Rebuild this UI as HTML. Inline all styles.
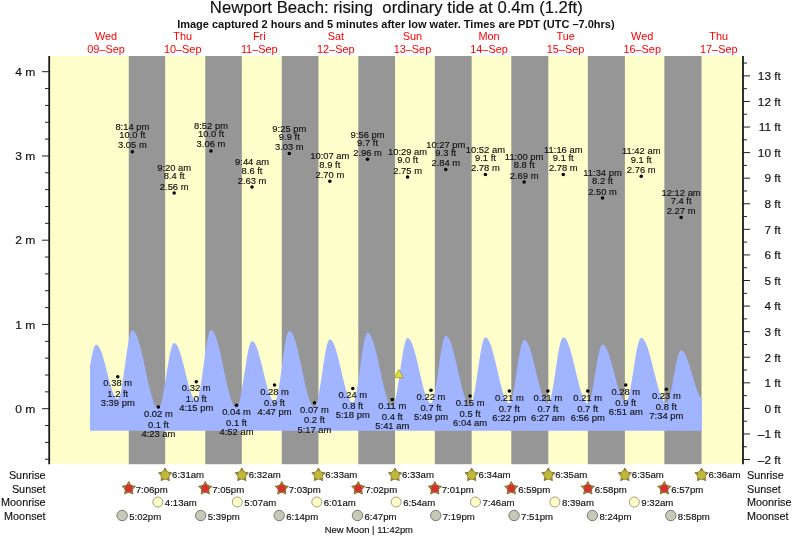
<!DOCTYPE html>
<html><head><meta charset="utf-8"><style>
html,body{margin:0;padding:0;background:#fff;}
svg{display:block;will-change:transform;}
text{font-family:"Liberation Sans",sans-serif;fill:#111;stroke:#111;stroke-width:0.15px;}
.tl{font-size:9.6px;text-anchor:middle;}
.ax{font-size:11px;}
.dl{font-size:10.9px;text-anchor:middle;fill:#ff0000;stroke:none;}
.title{font-size:16.7px;text-anchor:middle;fill:#111;}
.sub{font-size:11px;stroke:none;font-weight:bold;text-anchor:middle;fill:#111;}
.rl{font-size:11.4px;}
.it{font-size:9.6px;}
.nm{font-size:9.4px;}
</style></head><body>
<svg width="793" height="538" viewBox="0 0 793 538">
<rect width="793" height="538" fill="#fff"/>
<rect x="49.0" y="56.0" width="694.0" height="408.2" fill="#ffffcc"/>
<rect x="128.75" y="56.0" width="36.43" height="408.2" fill="#969696"/>
<rect x="205.28" y="56.0" width="36.54" height="408.2" fill="#969696"/>
<rect x="281.76" y="56.0" width="36.70" height="408.2" fill="#969696"/>
<rect x="358.29" y="56.0" width="36.75" height="408.2" fill="#969696"/>
<rect x="434.82" y="56.0" width="36.86" height="408.2" fill="#969696"/>
<rect x="511.30" y="56.0" width="37.02" height="408.2" fill="#969696"/>
<rect x="587.83" y="56.0" width="37.07" height="408.2" fill="#969696"/>
<rect x="664.36" y="56.0" width="37.18" height="408.2" fill="#969696"/>
<path d="M90.00,430.70 L90.00,365.84 L90.50,362.95 L91.00,360.20 L91.50,357.61 L92.00,355.20 L92.50,352.99 L93.00,351.02 L93.50,349.28 L94.00,347.81 L94.50,346.62 L95.00,345.71 L95.50,345.10 L96.00,344.80 L96.50,344.78 L97.00,344.92 L97.50,345.21 L98.00,345.64 L98.50,346.21 L99.00,346.91 L99.50,347.75 L100.00,348.72 L100.50,349.82 L101.00,351.03 L101.50,352.35 L102.00,353.77 L102.50,355.30 L103.00,356.91 L103.50,358.60 L104.00,360.36 L104.50,362.18 L105.00,364.05 L105.50,365.97 L106.00,367.92 L106.50,369.89 L107.00,371.87 L107.50,373.84 L108.00,375.81 L108.50,377.76 L109.00,379.67 L109.50,381.55 L110.00,383.37 L110.50,385.13 L111.00,386.82 L111.50,388.43 L112.00,389.95 L112.50,391.37 L113.00,392.69 L113.50,393.90 L114.00,394.99 L114.50,395.96 L115.00,396.80 L115.50,397.50 L116.00,398.07 L116.50,398.50 L117.00,398.78 L117.50,398.93 L118.00,398.89 L118.50,398.49 L119.00,397.69 L119.50,396.52 L120.00,394.98 L120.50,393.09 L121.00,390.87 L121.50,388.35 L122.00,385.56 L122.50,382.52 L123.00,379.29 L123.50,375.88 L124.00,372.34 L124.50,368.71 L125.00,365.04 L125.50,361.36 L126.00,357.73 L126.50,354.17 L127.00,350.73 L127.50,347.45 L128.00,344.37 L128.50,341.53 L129.00,338.95 L129.50,336.67 L130.00,334.71 L130.50,333.09 L131.00,331.84 L131.50,330.97 L132.00,330.48 L132.50,330.38 L133.00,330.49 L133.50,330.74 L134.00,331.13 L134.50,331.67 L135.00,332.33 L135.50,333.14 L136.00,334.07 L136.50,335.13 L137.00,336.32 L137.50,337.63 L138.00,339.05 L138.50,340.58 L139.00,342.22 L139.50,343.96 L140.00,345.79 L140.50,347.70 L141.00,349.69 L141.50,351.76 L142.00,353.89 L142.50,356.07 L143.00,358.31 L143.50,360.58 L144.00,362.88 L144.50,365.21 L145.00,367.55 L145.50,369.90 L146.00,372.25 L146.50,374.59 L147.00,376.90 L147.50,379.19 L148.00,381.44 L148.50,383.65 L149.00,385.81 L149.50,387.91 L150.00,389.93 L150.50,391.89 L151.00,393.76 L151.50,395.54 L152.00,397.22 L152.50,398.80 L153.00,400.28 L153.50,401.64 L154.00,402.89 L154.50,404.01 L155.00,405.00 L155.50,405.87 L156.00,406.60 L156.50,407.20 L157.00,407.65 L157.50,407.97 L158.00,408.15 L158.50,408.18 L159.00,407.93 L159.50,407.37 L160.00,406.49 L160.50,405.31 L161.00,403.83 L161.50,402.07 L162.00,400.05 L162.50,397.79 L163.00,395.31 L163.50,392.64 L164.00,389.80 L164.50,386.81 L165.00,383.72 L165.50,380.54 L166.00,377.32 L166.50,374.08 L167.00,370.85 L167.50,367.67 L168.00,364.57 L168.50,361.57 L169.00,358.72 L169.50,356.03 L170.00,353.53 L170.50,351.26 L171.00,349.22 L171.50,347.44 L172.00,345.94 L172.50,344.74 L173.00,343.83 L173.50,343.25 L174.00,342.98 L174.50,342.99 L175.00,343.16 L175.50,343.48 L176.00,343.93 L176.50,344.53 L177.00,345.27 L177.50,346.14 L178.00,347.14 L178.50,348.26 L179.00,349.50 L179.50,350.86 L180.00,352.32 L180.50,353.88 L181.00,355.53 L181.50,357.26 L182.00,359.06 L182.50,360.93 L183.00,362.85 L183.50,364.82 L184.00,366.82 L184.50,368.85 L185.00,370.89 L185.50,372.94 L186.00,374.98 L186.50,377.00 L187.00,379.00 L187.50,380.96 L188.00,382.87 L188.50,384.73 L189.00,386.52 L189.50,388.24 L190.00,389.87 L190.50,391.41 L191.00,392.85 L191.50,394.19 L192.00,395.41 L192.50,396.51 L193.00,397.48 L193.50,398.33 L194.00,399.04 L194.50,399.61 L195.00,400.04 L195.50,400.32 L196.00,400.47 L196.50,400.43 L197.00,400.02 L197.50,399.22 L198.00,398.03 L198.50,396.47 L199.00,394.55 L199.50,392.31 L200.00,389.75 L200.50,386.92 L201.00,383.85 L201.50,380.56 L202.00,377.10 L202.50,373.51 L203.00,369.82 L203.50,366.08 L204.00,362.33 L204.50,358.62 L205.00,354.98 L205.50,351.46 L206.00,348.10 L206.50,344.93 L207.00,341.99 L207.50,339.32 L208.00,336.94 L208.50,334.89 L209.00,333.18 L209.50,331.83 L210.00,330.87 L210.50,330.30 L211.00,330.12 L211.50,330.20 L212.00,330.43 L212.50,330.81 L213.00,331.33 L213.50,331.99 L214.00,332.79 L214.50,333.72 L215.00,334.79 L215.50,335.99 L216.00,337.32 L216.50,338.76 L217.00,340.32 L217.50,341.98 L218.00,343.75 L218.50,345.61 L219.00,347.56 L219.50,349.60 L220.00,351.70 L220.50,353.87 L221.00,356.10 L221.50,358.37 L222.00,360.69 L222.50,363.03 L223.00,365.40 L223.50,367.78 L224.00,370.17 L224.50,372.55 L225.00,374.92 L225.50,377.26 L226.00,379.57 L226.50,381.84 L227.00,384.07 L227.50,386.23 L228.00,388.33 L228.50,390.36 L229.00,392.31 L229.50,394.16 L230.00,395.92 L230.50,397.58 L231.00,399.13 L231.50,400.57 L232.00,401.88 L232.50,403.07 L233.00,404.14 L233.50,405.06 L234.00,405.86 L234.50,406.51 L235.00,407.02 L235.50,407.38 L236.00,407.60 L236.50,407.67 L237.00,407.50 L237.50,406.99 L238.00,406.15 L238.50,404.98 L239.00,403.50 L239.50,401.72 L240.00,399.67 L240.50,397.35 L241.00,394.81 L241.50,392.05 L242.00,389.11 L242.50,386.02 L243.00,382.82 L243.50,379.53 L244.00,376.18 L244.50,372.82 L245.00,369.47 L245.50,366.18 L246.00,362.97 L246.50,359.87 L247.00,356.93 L247.50,354.16 L248.00,351.60 L248.50,349.28 L249.00,347.21 L249.50,345.41 L250.00,343.92 L250.50,342.74 L251.00,341.88 L251.50,341.35 L252.00,341.16 L252.50,341.23 L253.00,341.44 L253.50,341.80 L254.00,342.30 L254.50,342.94 L255.00,343.73 L255.50,344.64 L256.00,345.69 L256.50,346.86 L257.00,348.15 L257.50,349.56 L258.00,351.06 L258.50,352.67 L259.00,354.37 L259.50,356.16 L260.00,358.01 L260.50,359.93 L261.00,361.91 L261.50,363.93 L262.00,365.99 L262.50,368.08 L263.00,370.18 L263.50,372.28 L264.00,374.38 L264.50,376.47 L265.00,378.53 L265.50,380.56 L266.00,382.54 L266.50,384.47 L267.00,386.33 L267.50,388.12 L268.00,389.83 L268.50,391.45 L269.00,392.97 L269.50,394.38 L270.00,395.69 L270.50,396.87 L271.00,397.93 L271.50,398.86 L272.00,399.66 L272.50,400.31 L273.00,400.83 L273.50,401.20 L274.00,401.43 L274.50,401.51 L275.00,401.33 L275.50,400.75 L276.00,399.79 L276.50,398.44 L277.00,396.73 L277.50,394.68 L278.00,392.31 L278.50,389.64 L279.00,386.71 L279.50,383.54 L280.00,380.18 L280.50,376.67 L281.00,373.03 L281.50,369.32 L282.00,365.57 L282.50,361.83 L283.00,358.14 L283.50,354.54 L284.00,351.07 L284.50,347.77 L285.00,344.68 L285.50,341.84 L286.00,339.26 L286.50,336.99 L287.00,335.06 L287.50,333.47 L288.00,332.25 L288.50,331.41 L289.00,330.97 L289.50,330.90 L290.00,331.03 L290.50,331.31 L291.00,331.74 L291.50,332.31 L292.00,333.03 L292.50,333.88 L293.00,334.88 L293.50,336.00 L294.00,337.26 L294.50,338.63 L295.00,340.13 L295.50,341.74 L296.00,343.46 L296.50,345.27 L297.00,347.18 L297.50,349.17 L298.00,351.24 L298.50,353.38 L299.00,355.58 L299.50,357.83 L300.00,360.13 L300.50,362.46 L301.00,364.82 L301.50,367.19 L302.00,369.56 L302.50,371.94 L303.00,374.30 L303.50,376.64 L304.00,378.96 L304.50,381.23 L305.00,383.45 L305.50,385.62 L306.00,387.72 L306.50,389.75 L307.00,391.69 L307.50,393.55 L308.00,395.31 L308.50,396.97 L309.00,398.52 L309.50,399.95 L310.00,401.26 L310.50,402.44 L311.00,403.49 L311.50,404.41 L312.00,405.19 L312.50,405.82 L313.00,406.31 L313.50,406.66 L314.00,406.85 L314.50,406.90 L315.00,406.66 L315.50,406.08 L316.00,405.15 L316.50,403.89 L317.00,402.32 L317.50,400.44 L318.00,398.27 L318.50,395.85 L319.00,393.19 L319.50,390.33 L320.00,387.28 L320.50,384.09 L321.00,380.79 L321.50,377.41 L322.00,373.98 L322.50,370.54 L323.00,367.13 L323.50,363.78 L324.00,360.53 L324.50,357.41 L325.00,354.46 L325.50,351.69 L326.00,349.15 L326.50,346.86 L327.00,344.84 L327.50,343.11 L328.00,341.70 L328.50,340.61 L329.00,339.85 L329.50,339.44 L330.00,339.37 L330.50,339.50 L331.00,339.77 L331.50,340.19 L332.00,340.75 L332.50,341.45 L333.00,342.29 L333.50,343.27 L334.00,344.38 L334.50,345.61 L335.00,346.96 L335.50,348.42 L336.00,349.99 L336.50,351.65 L337.00,353.41 L337.50,355.25 L338.00,357.17 L338.50,359.14 L339.00,361.18 L339.50,363.26 L340.00,365.37 L340.50,367.52 L341.00,369.67 L341.50,371.84 L342.00,374.00 L342.50,376.14 L343.00,378.26 L343.50,380.35 L344.00,382.39 L344.50,384.38 L345.00,386.31 L345.50,388.16 L346.00,389.94 L346.50,391.62 L347.00,393.21 L347.50,394.69 L348.00,396.06 L348.50,397.31 L349.00,398.44 L349.50,399.44 L350.00,400.31 L350.50,401.04 L351.00,401.63 L351.50,402.07 L352.00,402.37 L352.50,402.52 L353.00,402.49 L353.50,402.10 L354.00,401.32 L354.50,400.17 L355.00,398.64 L355.50,396.77 L356.00,394.56 L356.50,392.06 L357.00,389.27 L357.50,386.25 L358.00,383.01 L358.50,379.60 L359.00,376.05 L359.50,372.41 L360.00,368.72 L360.50,365.01 L361.00,361.33 L361.50,357.72 L362.00,354.23 L362.50,350.88 L363.00,347.73 L363.50,344.79 L364.00,342.12 L364.50,339.73 L365.00,337.66 L365.50,335.92 L366.00,334.55 L366.50,333.54 L367.00,332.92 L367.50,332.69 L368.00,332.75 L368.50,332.96 L369.00,333.32 L369.50,333.82 L370.00,334.46 L370.50,335.24 L371.00,336.16 L371.50,337.22 L372.00,338.40 L372.50,339.71 L373.00,341.14 L373.50,342.68 L374.00,344.33 L374.50,346.08 L375.00,347.92 L375.50,349.85 L376.00,351.86 L376.50,353.94 L377.00,356.08 L377.50,358.27 L378.00,360.51 L378.50,362.78 L379.00,365.08 L379.50,367.39 L380.00,369.72 L380.50,372.04 L381.00,374.35 L381.50,376.64 L382.00,378.90 L382.50,381.12 L383.00,383.30 L383.50,385.41 L384.00,387.47 L384.50,389.44 L385.00,391.34 L385.50,393.15 L386.00,394.86 L386.50,396.47 L387.00,397.97 L387.50,399.36 L388.00,400.62 L388.50,401.76 L389.00,402.76 L389.50,403.63 L390.00,404.36 L390.50,404.95 L391.00,405.40 L391.50,405.70 L392.00,405.85 L392.50,405.84 L393.00,405.50 L393.50,404.80 L394.00,403.77 L394.50,402.40 L395.00,400.70 L395.50,398.71 L396.00,396.44 L396.50,393.91 L397.00,391.14 L397.50,388.18 L398.00,385.05 L398.50,381.78 L399.00,378.40 L399.50,374.96 L400.00,371.49 L400.50,368.02 L401.00,364.60 L401.50,361.25 L402.00,358.01 L402.50,354.93 L403.00,352.02 L403.50,349.32 L404.00,346.86 L404.50,344.66 L405.00,342.75 L405.50,341.14 L406.00,339.86 L406.50,338.92 L407.00,338.33 L407.50,338.09 L408.00,338.13 L408.50,338.32 L409.00,338.66 L409.50,339.15 L410.00,339.77 L410.50,340.53 L411.00,341.43 L411.50,342.46 L412.00,343.61 L412.50,344.89 L413.00,346.28 L413.50,347.79 L414.00,349.39 L414.50,351.09 L415.00,352.88 L415.50,354.75 L416.00,356.69 L416.50,358.69 L417.00,360.74 L417.50,362.84 L418.00,364.97 L418.50,367.13 L419.00,369.31 L419.50,371.49 L420.00,373.66 L420.50,375.83 L421.00,377.96 L421.50,380.07 L422.00,382.13 L422.50,384.14 L423.00,386.09 L423.50,387.97 L424.00,389.77 L424.50,391.48 L425.00,393.10 L425.50,394.62 L426.00,396.03 L426.50,397.33 L427.00,398.50 L427.50,399.55 L428.00,400.47 L428.50,401.25 L429.00,401.90 L429.50,402.40 L430.00,402.76 L430.50,402.98 L431.00,403.05 L431.50,402.85 L432.00,402.28 L432.50,401.33 L433.00,400.03 L433.50,398.37 L434.00,396.40 L434.50,394.12 L435.00,391.55 L435.50,388.74 L436.00,385.72 L436.50,382.50 L437.00,379.14 L437.50,375.67 L438.00,372.13 L438.50,368.56 L439.00,365.00 L439.50,361.49 L440.00,358.07 L440.50,354.77 L441.00,351.64 L441.50,348.72 L442.00,346.02 L442.50,343.59 L443.00,341.45 L443.50,339.62 L444.00,338.13 L444.50,337.00 L445.00,336.22 L445.50,335.83 L446.00,335.79 L446.50,335.92 L447.00,336.20 L447.50,336.63 L448.00,337.19 L448.50,337.89 L449.00,338.73 L449.50,339.70 L450.00,340.80 L450.50,342.02 L451.00,343.36 L451.50,344.81 L452.00,346.36 L452.50,348.02 L453.00,349.77 L453.50,351.61 L454.00,353.52 L454.50,355.51 L455.00,357.55 L455.50,359.65 L456.00,361.80 L456.50,363.98 L457.00,366.18 L457.50,368.41 L458.00,370.64 L458.50,372.87 L459.00,375.09 L459.50,377.29 L460.00,379.46 L460.50,381.59 L461.00,383.67 L461.50,385.70 L462.00,387.67 L462.50,389.56 L463.00,391.37 L463.50,393.10 L464.00,394.72 L464.50,396.25 L465.00,397.67 L465.50,398.97 L466.00,400.16 L466.50,401.22 L467.00,402.15 L467.50,402.95 L468.00,403.61 L468.50,404.13 L469.00,404.51 L469.50,404.75 L470.00,404.85 L470.50,404.72 L471.00,404.25 L471.50,403.42 L472.00,402.26 L472.50,400.77 L473.00,398.97 L473.50,396.87 L474.00,394.50 L474.50,391.89 L475.00,389.06 L475.50,386.04 L476.00,382.86 L476.50,379.56 L477.00,376.17 L477.50,372.72 L478.00,369.26 L478.50,365.82 L479.00,362.43 L479.50,359.13 L480.00,355.96 L480.50,352.95 L481.00,350.13 L481.50,347.53 L482.00,345.18 L482.50,343.09 L483.00,341.31 L483.50,339.83 L484.00,338.69 L484.50,337.88 L485.00,337.42 L485.50,337.31 L486.00,337.42 L486.50,337.66 L487.00,338.04 L487.50,338.56 L488.00,339.22 L488.50,340.01 L489.00,340.94 L489.50,341.99 L490.00,343.16 L490.50,344.45 L491.00,345.85 L491.50,347.35 L492.00,348.95 L492.50,350.65 L493.00,352.43 L493.50,354.29 L494.00,356.22 L494.50,358.20 L495.00,360.24 L495.50,362.32 L496.00,364.44 L496.50,366.58 L497.00,368.74 L497.50,370.91 L498.00,373.07 L498.50,375.22 L499.00,377.35 L499.50,379.45 L500.00,381.51 L500.50,383.52 L501.00,385.48 L501.50,387.37 L502.00,389.18 L502.50,390.92 L503.00,392.56 L503.50,394.11 L504.00,395.56 L504.50,396.90 L505.00,398.12 L505.50,399.23 L506.00,400.21 L506.50,401.06 L507.00,401.78 L507.50,402.36 L508.00,402.81 L508.50,403.11 L509.00,403.28 L509.50,403.29 L510.00,402.98 L510.50,402.33 L511.00,401.32 L511.50,399.98 L512.00,398.31 L512.50,396.34 L513.00,394.10 L513.50,391.59 L514.00,388.86 L514.50,385.94 L515.00,382.85 L515.50,379.63 L516.00,376.32 L516.50,372.96 L517.00,369.57 L517.50,366.21 L518.00,362.91 L518.50,359.71 L519.00,356.64 L519.50,353.73 L520.00,351.03 L520.50,348.55 L521.00,346.34 L521.50,344.41 L522.00,342.78 L522.50,341.47 L523.00,340.51 L523.50,339.89 L524.00,339.63 L524.50,339.66 L525.00,339.84 L525.50,340.16 L526.00,340.61 L526.50,341.19 L527.00,341.91 L527.50,342.76 L528.00,343.73 L528.50,344.83 L529.00,346.04 L529.50,347.36 L530.00,348.78 L530.50,350.31 L531.00,351.92 L531.50,353.63 L532.00,355.41 L532.50,357.26 L533.00,359.17 L533.50,361.14 L534.00,363.15 L534.50,365.20 L535.00,367.27 L535.50,369.36 L536.00,371.47 L536.50,373.57 L537.00,375.66 L537.50,377.74 L538.00,379.79 L538.50,381.80 L539.00,383.76 L539.50,385.68 L540.00,387.53 L540.50,389.31 L541.00,391.01 L541.50,392.63 L542.00,394.15 L542.50,395.58 L543.00,396.90 L543.50,398.11 L544.00,399.20 L544.50,400.17 L545.00,401.02 L545.50,401.74 L546.00,402.32 L546.50,402.77 L547.00,403.09 L547.50,403.27 L548.00,403.30 L548.50,403.05 L549.00,402.46 L549.50,401.53 L550.00,400.27 L550.50,398.71 L551.00,396.85 L551.50,394.71 L552.00,392.31 L552.50,389.69 L553.00,386.86 L553.50,383.86 L554.00,380.72 L554.50,377.47 L555.00,374.15 L555.50,370.79 L556.00,367.42 L556.50,364.08 L557.00,360.81 L557.50,357.63 L558.00,354.59 L558.50,351.71 L559.00,349.03 L559.50,346.57 L560.00,344.35 L560.50,342.41 L561.00,340.76 L561.50,339.41 L562.00,338.39 L562.50,337.70 L563.00,337.36 L563.50,337.33 L564.00,337.46 L564.50,337.73 L565.00,338.14 L565.50,338.67 L566.00,339.34 L566.50,340.13 L567.00,341.05 L567.50,342.09 L568.00,343.25 L568.50,344.51 L569.00,345.89 L569.50,347.36 L570.00,348.93 L570.50,350.59 L571.00,352.33 L571.50,354.14 L572.00,356.02 L572.50,357.96 L573.00,359.94 L573.50,361.98 L574.00,364.04 L574.50,366.13 L575.00,368.24 L575.50,370.36 L576.00,372.48 L576.50,374.59 L577.00,376.68 L577.50,378.74 L578.00,380.77 L578.50,382.76 L579.00,384.69 L579.50,386.57 L580.00,388.38 L580.50,390.11 L581.00,391.76 L581.50,393.33 L582.00,394.80 L582.50,396.17 L583.00,397.43 L583.50,398.58 L584.00,399.61 L584.50,400.53 L585.00,401.31 L585.50,401.98 L586.00,402.51 L586.50,402.90 L587.00,403.17 L587.50,403.29 L588.00,403.26 L588.50,402.90 L589.00,402.23 L589.50,401.23 L590.00,399.92 L590.50,398.33 L591.00,396.45 L591.50,394.32 L592.00,391.96 L592.50,389.40 L593.00,386.67 L593.50,383.78 L594.00,380.79 L594.50,377.72 L595.00,374.61 L595.50,371.49 L596.00,368.39 L596.50,365.36 L597.00,362.43 L597.50,359.62 L598.00,356.98 L598.50,354.52 L599.00,352.29 L599.50,350.30 L600.00,348.57 L600.50,347.13 L601.00,345.99 L601.50,345.17 L602.00,344.67 L602.50,344.50 L603.00,344.57 L603.50,344.76 L604.00,345.08 L604.50,345.53 L605.00,346.11 L605.50,346.81 L606.00,347.62 L606.50,348.56 L607.00,349.60 L607.50,350.76 L608.00,352.01 L608.50,353.36 L609.00,354.80 L609.50,356.32 L610.00,357.92 L610.50,359.59 L611.00,361.32 L611.50,363.10 L612.00,364.93 L612.50,366.79 L613.00,368.68 L613.50,370.60 L614.00,372.52 L614.50,374.45 L615.00,376.37 L615.50,378.27 L616.00,380.15 L616.50,382.00 L617.00,383.80 L617.50,385.56 L618.00,387.26 L618.50,388.89 L619.00,390.46 L619.50,391.94 L620.00,393.33 L620.50,394.64 L621.00,395.84 L621.50,396.94 L622.00,397.93 L622.50,398.81 L623.00,399.57 L623.50,400.21 L624.00,400.72 L624.50,401.11 L625.00,401.36 L625.50,401.49 L626.00,401.47 L626.50,401.14 L627.00,400.48 L627.50,399.51 L628.00,398.24 L628.50,396.66 L629.00,394.81 L629.50,392.70 L630.00,390.36 L630.50,387.80 L631.00,385.05 L631.50,382.15 L632.00,379.12 L632.50,375.99 L633.00,372.79 L633.50,369.57 L634.00,366.34 L634.50,363.15 L635.00,360.03 L635.50,357.00 L636.00,354.11 L636.50,351.37 L637.00,348.82 L637.50,346.49 L638.00,344.40 L638.50,342.57 L639.00,341.01 L639.50,339.75 L640.00,338.80 L640.50,338.17 L641.00,337.86 L641.50,337.84 L642.00,337.98 L642.50,338.24 L643.00,338.63 L643.50,339.14 L644.00,339.77 L644.50,340.52 L645.00,341.39 L645.50,342.37 L646.00,343.46 L646.50,344.66 L647.00,345.95 L647.50,347.34 L648.00,348.83 L648.50,350.39 L649.00,352.04 L649.50,353.75 L650.00,355.53 L650.50,357.37 L651.00,359.26 L651.50,361.19 L652.00,363.16 L652.50,365.15 L653.00,367.17 L653.50,369.20 L654.00,371.23 L654.50,373.26 L655.00,375.27 L655.50,377.27 L656.00,379.24 L656.50,381.18 L657.00,383.07 L657.50,384.91 L658.00,386.70 L658.50,388.42 L659.00,390.07 L659.50,391.65 L660.00,393.14 L660.50,394.54 L661.00,395.84 L661.50,397.05 L662.00,398.15 L662.50,399.14 L663.00,400.02 L663.50,400.78 L664.00,401.43 L664.50,401.95 L665.00,402.35 L665.50,402.62 L666.00,402.77 L666.50,402.78 L667.00,402.52 L667.50,401.98 L668.00,401.15 L668.50,400.05 L669.00,398.68 L669.50,397.06 L670.00,395.21 L670.50,393.15 L671.00,390.90 L671.50,388.49 L672.00,385.95 L672.50,383.30 L673.00,380.58 L673.50,377.81 L674.00,375.03 L674.50,372.27 L675.00,369.55 L675.50,366.92 L676.00,364.39 L676.50,362.00 L677.00,359.78 L677.50,357.74 L678.00,355.92 L678.50,354.33 L679.00,353.00 L679.50,351.93 L680.00,351.13 L680.50,350.63 L681.00,350.41 L681.50,350.44 L682.00,350.60 L682.50,350.87 L683.00,351.27 L683.50,351.77 L684.00,352.40 L684.50,353.13 L685.00,353.97 L685.50,354.92 L686.00,355.96 L686.50,357.10 L687.00,358.33 L687.50,359.64 L688.00,361.02 L688.50,362.47 L689.00,363.99 L689.50,365.56 L690.00,367.17 L690.50,368.83 L691.00,370.52 L691.50,372.22 L692.00,373.95 L692.50,375.68 L693.00,377.41 L693.50,379.12 L694.00,380.82 L694.50,382.49 L695.00,384.12 L695.50,385.71 L696.00,387.25 L696.50,388.73 L697.00,390.15 L697.50,391.49 L698.00,392.75 L698.50,393.93 L699.00,395.02 L699.50,396.00 L700.00,396.89 L700.50,397.67 L701.00,398.35 L701.50,398.90 L702.00,399.35 L702.00,399.35 L702.00,430.70 Z" fill="#a0b4ff"/>
<circle cx="117.74" cy="376.69" r="1.75" fill="#000"/>
<text transform="translate(117.74 386.38) scale(0.98 1)" class="tl">0.38 m</text>
<text transform="translate(117.74 397.29) scale(0.98 1)" class="tl">1.2 ft</text>
<text transform="translate(117.74 406.38) scale(0.98 1)" class="tl">3:39 pm</text>
<circle cx="132.36" cy="151.74" r="1.75" fill="#000"/>
<text transform="translate(132.36 129.94) scale(0.98 1)" class="tl">8:14 pm</text>
<text transform="translate(132.36 138.14) scale(0.98 1)" class="tl">10.0 ft</text>
<text transform="translate(132.36 148.24) scale(0.98 1)" class="tl">3.05 m</text>
<circle cx="158.37" cy="407.01" r="1.75" fill="#000"/>
<text transform="translate(158.37 416.71) scale(0.98 1)" class="tl">0.02 m</text>
<text transform="translate(158.37 427.62) scale(0.98 1)" class="tl">0.1 ft</text>
<text transform="translate(158.37 436.71) scale(0.98 1)" class="tl">4:23 am</text>
<circle cx="174.17" cy="193.02" r="1.75" fill="#000"/>
<text transform="translate(174.17 171.22) scale(0.98 1)" class="tl">9:20 am</text>
<text transform="translate(174.17 179.42) scale(0.98 1)" class="tl">8.4 ft</text>
<text transform="translate(174.17 189.52) scale(0.98 1)" class="tl">2.56 m</text>
<circle cx="196.24" cy="381.74" r="1.75" fill="#000"/>
<text transform="translate(196.24 391.44) scale(0.98 1)" class="tl">0.32 m</text>
<text transform="translate(196.24 402.34) scale(0.98 1)" class="tl">1.0 ft</text>
<text transform="translate(196.24 411.44) scale(0.98 1)" class="tl">4:15 pm</text>
<circle cx="210.97" cy="150.89" r="1.75" fill="#000"/>
<text transform="translate(210.97 129.09) scale(0.98 1)" class="tl">8:52 pm</text>
<text transform="translate(210.97 137.29) scale(0.98 1)" class="tl">10.0 ft</text>
<text transform="translate(210.97 147.39) scale(0.98 1)" class="tl">3.06 m</text>
<circle cx="236.50" cy="405.33" r="1.75" fill="#000"/>
<text transform="translate(236.50 415.03) scale(0.98 1)" class="tl">0.04 m</text>
<text transform="translate(236.50 425.93) scale(0.98 1)" class="tl">0.1 ft</text>
<text transform="translate(236.50 435.03) scale(0.98 1)" class="tl">4:52 am</text>
<circle cx="252.03" cy="187.12" r="1.75" fill="#000"/>
<text transform="translate(252.03 165.32) scale(0.98 1)" class="tl">9:44 am</text>
<text transform="translate(252.03 173.52) scale(0.98 1)" class="tl">8.6 ft</text>
<text transform="translate(252.03 183.62) scale(0.98 1)" class="tl">2.63 m</text>
<circle cx="274.52" cy="385.11" r="1.75" fill="#000"/>
<text transform="translate(274.52 394.81) scale(0.98 1)" class="tl">0.28 m</text>
<text transform="translate(274.52 405.71) scale(0.98 1)" class="tl">0.9 ft</text>
<text transform="translate(274.52 414.81) scale(0.98 1)" class="tl">4:47 pm</text>
<circle cx="289.31" cy="153.42" r="1.75" fill="#000"/>
<text transform="translate(289.31 131.62) scale(0.98 1)" class="tl">9:25 pm</text>
<text transform="translate(289.31 139.82) scale(0.98 1)" class="tl">9.9 ft</text>
<text transform="translate(289.31 149.92) scale(0.98 1)" class="tl">3.03 m</text>
<circle cx="314.41" cy="402.80" r="1.75" fill="#000"/>
<text transform="translate(314.41 412.50) scale(0.98 1)" class="tl">0.07 m</text>
<text transform="translate(314.41 423.40) scale(0.98 1)" class="tl">0.2 ft</text>
<text transform="translate(314.41 432.50) scale(0.98 1)" class="tl">5:17 am</text>
<circle cx="329.83" cy="181.22" r="1.75" fill="#000"/>
<text transform="translate(329.83 159.42) scale(0.98 1)" class="tl">10:07 am</text>
<text transform="translate(329.83 167.62) scale(0.98 1)" class="tl">8.9 ft</text>
<text transform="translate(329.83 177.72) scale(0.98 1)" class="tl">2.70 m</text>
<circle cx="352.76" cy="388.48" r="1.75" fill="#000"/>
<text transform="translate(352.76 398.18) scale(0.98 1)" class="tl">0.24 m</text>
<text transform="translate(352.76 409.08) scale(0.98 1)" class="tl">0.8 ft</text>
<text transform="translate(352.76 418.18) scale(0.98 1)" class="tl">5:18 pm</text>
<circle cx="367.54" cy="159.32" r="1.75" fill="#000"/>
<text transform="translate(367.54 137.52) scale(0.98 1)" class="tl">9:56 pm</text>
<text transform="translate(367.54 145.72) scale(0.98 1)" class="tl">9.7 ft</text>
<text transform="translate(367.54 155.82) scale(0.98 1)" class="tl">2.96 m</text>
<circle cx="392.27" cy="399.43" r="1.75" fill="#000"/>
<text transform="translate(392.27 409.13) scale(0.98 1)" class="tl">0.11 m</text>
<text transform="translate(392.27 420.03) scale(0.98 1)" class="tl">0.4 ft</text>
<text transform="translate(392.27 429.13) scale(0.98 1)" class="tl">5:41 am</text>
<circle cx="407.59" cy="177.01" r="1.75" fill="#000"/>
<text transform="translate(407.59 155.21) scale(0.98 1)" class="tl">10:29 am</text>
<text transform="translate(407.59 163.41) scale(0.98 1)" class="tl">9.0 ft</text>
<text transform="translate(407.59 173.51) scale(0.98 1)" class="tl">2.75 m</text>
<circle cx="430.99" cy="390.16" r="1.75" fill="#000"/>
<text transform="translate(430.99 399.86) scale(0.98 1)" class="tl">0.22 m</text>
<text transform="translate(430.99 410.76) scale(0.98 1)" class="tl">0.7 ft</text>
<text transform="translate(430.99 419.86) scale(0.98 1)" class="tl">5:49 pm</text>
<circle cx="445.77" cy="169.43" r="1.75" fill="#000"/>
<text transform="translate(445.77 147.63) scale(0.98 1)" class="tl">10:27 pm</text>
<text transform="translate(445.77 155.83) scale(0.98 1)" class="tl">9.3 ft</text>
<text transform="translate(445.77 165.93) scale(0.98 1)" class="tl">2.84 m</text>
<circle cx="470.08" cy="396.06" r="1.75" fill="#000"/>
<text transform="translate(470.08 405.76) scale(0.98 1)" class="tl">0.15 m</text>
<text transform="translate(470.08 416.66) scale(0.98 1)" class="tl">0.5 ft</text>
<text transform="translate(470.08 425.76) scale(0.98 1)" class="tl">6:04 am</text>
<circle cx="485.40" cy="174.49" r="1.75" fill="#000"/>
<text transform="translate(485.40 152.69) scale(0.98 1)" class="tl">10:52 am</text>
<text transform="translate(485.40 160.89) scale(0.98 1)" class="tl">9.1 ft</text>
<text transform="translate(485.40 170.99) scale(0.98 1)" class="tl">2.78 m</text>
<circle cx="509.33" cy="391.01" r="1.75" fill="#000"/>
<text transform="translate(509.33 400.71) scale(0.98 1)" class="tl">0.21 m</text>
<text transform="translate(509.33 411.61) scale(0.98 1)" class="tl">0.7 ft</text>
<text transform="translate(509.33 420.71) scale(0.98 1)" class="tl">6:22 pm</text>
<circle cx="524.11" cy="182.07" r="1.75" fill="#000"/>
<text transform="translate(524.11 160.27) scale(0.98 1)" class="tl">11:00 pm</text>
<text transform="translate(524.11 168.47) scale(0.98 1)" class="tl">8.8 ft</text>
<text transform="translate(524.11 178.57) scale(0.98 1)" class="tl">2.69 m</text>
<circle cx="547.89" cy="391.01" r="1.75" fill="#000"/>
<text transform="translate(547.89 400.71) scale(0.98 1)" class="tl">0.21 m</text>
<text transform="translate(547.89 411.61) scale(0.98 1)" class="tl">0.7 ft</text>
<text transform="translate(547.89 420.71) scale(0.98 1)" class="tl">6:27 am</text>
<circle cx="563.26" cy="174.49" r="1.75" fill="#000"/>
<text transform="translate(563.26 152.69) scale(0.98 1)" class="tl">11:16 am</text>
<text transform="translate(563.26 160.89) scale(0.98 1)" class="tl">9.1 ft</text>
<text transform="translate(563.26 170.99) scale(0.98 1)" class="tl">2.78 m</text>
<circle cx="587.72" cy="391.01" r="1.75" fill="#000"/>
<text transform="translate(587.72 400.71) scale(0.98 1)" class="tl">0.21 m</text>
<text transform="translate(587.72 411.61) scale(0.98 1)" class="tl">0.7 ft</text>
<text transform="translate(587.72 420.71) scale(0.98 1)" class="tl">6:56 pm</text>
<circle cx="602.51" cy="198.07" r="1.75" fill="#000"/>
<text transform="translate(602.51 176.27) scale(0.98 1)" class="tl">11:34 pm</text>
<text transform="translate(602.51 184.47) scale(0.98 1)" class="tl">8.2 ft</text>
<text transform="translate(602.51 194.57) scale(0.98 1)" class="tl">2.50 m</text>
<circle cx="625.75" cy="385.11" r="1.75" fill="#000"/>
<text transform="translate(625.75 394.81) scale(0.98 1)" class="tl">0.28 m</text>
<text transform="translate(625.75 405.71) scale(0.98 1)" class="tl">0.9 ft</text>
<text transform="translate(625.75 414.81) scale(0.98 1)" class="tl">6:51 am</text>
<circle cx="641.22" cy="176.17" r="1.75" fill="#000"/>
<text transform="translate(641.22 154.37) scale(0.98 1)" class="tl">11:42 am</text>
<text transform="translate(641.22 162.57) scale(0.98 1)" class="tl">9.1 ft</text>
<text transform="translate(641.22 172.67) scale(0.98 1)" class="tl">2.76 m</text>
<circle cx="666.33" cy="389.32" r="1.75" fill="#000"/>
<text transform="translate(666.33 399.02) scale(0.98 1)" class="tl">0.23 m</text>
<text transform="translate(666.33 409.92) scale(0.98 1)" class="tl">0.8 ft</text>
<text transform="translate(666.33 419.02) scale(0.98 1)" class="tl">7:34 pm</text>
<circle cx="681.11" cy="217.45" r="1.75" fill="#000"/>
<text transform="translate(681.11 195.65) scale(0.98 1)" class="tl">12:12 am</text>
<text transform="translate(681.11 203.85) scale(0.98 1)" class="tl">7.4 ft</text>
<text transform="translate(681.11 213.95) scale(0.98 1)" class="tl">2.27 m</text>
<line x1="49.2" y1="56.0" x2="49.2" y2="464.2" stroke="#1a1a1a" stroke-width="1.8"/>
<line x1="743.0" y1="56.0" x2="743.0" y2="464.2" stroke="#1a1a1a" stroke-width="1.8"/>
<line x1="45.0" y1="459.25" x2="49.0" y2="459.25" stroke="#222" stroke-width="1"/>
<line x1="45.0" y1="442.40" x2="49.0" y2="442.40" stroke="#222" stroke-width="1"/>
<line x1="45.0" y1="425.55" x2="49.0" y2="425.55" stroke="#222" stroke-width="1"/>
<line x1="42.0" y1="408.70" x2="49.0" y2="408.70" stroke="#222" stroke-width="1"/>
<text transform="translate(35.3 412.90) scale(1.1 1)" class="ax" text-anchor="end">0 m</text>
<line x1="45.0" y1="391.85" x2="49.0" y2="391.85" stroke="#222" stroke-width="1"/>
<line x1="45.0" y1="375.00" x2="49.0" y2="375.00" stroke="#222" stroke-width="1"/>
<line x1="45.0" y1="358.15" x2="49.0" y2="358.15" stroke="#222" stroke-width="1"/>
<line x1="45.0" y1="341.30" x2="49.0" y2="341.30" stroke="#222" stroke-width="1"/>
<line x1="42.0" y1="324.45" x2="49.0" y2="324.45" stroke="#222" stroke-width="1"/>
<text transform="translate(35.3 328.65) scale(1.1 1)" class="ax" text-anchor="end">1 m</text>
<line x1="45.0" y1="307.60" x2="49.0" y2="307.60" stroke="#222" stroke-width="1"/>
<line x1="45.0" y1="290.75" x2="49.0" y2="290.75" stroke="#222" stroke-width="1"/>
<line x1="45.0" y1="273.90" x2="49.0" y2="273.90" stroke="#222" stroke-width="1"/>
<line x1="45.0" y1="257.05" x2="49.0" y2="257.05" stroke="#222" stroke-width="1"/>
<line x1="42.0" y1="240.20" x2="49.0" y2="240.20" stroke="#222" stroke-width="1"/>
<text transform="translate(35.3 244.40) scale(1.1 1)" class="ax" text-anchor="end">2 m</text>
<line x1="45.0" y1="223.35" x2="49.0" y2="223.35" stroke="#222" stroke-width="1"/>
<line x1="45.0" y1="206.50" x2="49.0" y2="206.50" stroke="#222" stroke-width="1"/>
<line x1="45.0" y1="189.65" x2="49.0" y2="189.65" stroke="#222" stroke-width="1"/>
<line x1="45.0" y1="172.80" x2="49.0" y2="172.80" stroke="#222" stroke-width="1"/>
<line x1="42.0" y1="155.95" x2="49.0" y2="155.95" stroke="#222" stroke-width="1"/>
<text transform="translate(35.3 160.15) scale(1.1 1)" class="ax" text-anchor="end">3 m</text>
<line x1="45.0" y1="139.10" x2="49.0" y2="139.10" stroke="#222" stroke-width="1"/>
<line x1="45.0" y1="122.25" x2="49.0" y2="122.25" stroke="#222" stroke-width="1"/>
<line x1="45.0" y1="105.40" x2="49.0" y2="105.40" stroke="#222" stroke-width="1"/>
<line x1="45.0" y1="88.55" x2="49.0" y2="88.55" stroke="#222" stroke-width="1"/>
<line x1="42.0" y1="71.70" x2="49.0" y2="71.70" stroke="#222" stroke-width="1"/>
<text transform="translate(35.3 75.90) scale(1.1 1)" class="ax" text-anchor="end">4 m</text>
<line x1="743.0" y1="459.56" x2="750.0" y2="459.56" stroke="#222" stroke-width="1"/>
<text transform="translate(780.9 463.86) scale(1.08 1)" class="ax" text-anchor="end">–2 ft</text>
<line x1="743.0" y1="446.77" x2="747.0" y2="446.77" stroke="#222" stroke-width="1"/>
<line x1="743.0" y1="433.98" x2="750.0" y2="433.98" stroke="#222" stroke-width="1"/>
<text transform="translate(780.9 438.28) scale(1.08 1)" class="ax" text-anchor="end">–1 ft</text>
<line x1="743.0" y1="421.19" x2="747.0" y2="421.19" stroke="#222" stroke-width="1"/>
<line x1="743.0" y1="408.40" x2="750.0" y2="408.40" stroke="#222" stroke-width="1"/>
<text transform="translate(780.9 412.70) scale(1.08 1)" class="ax" text-anchor="end">0 ft</text>
<line x1="743.0" y1="395.61" x2="747.0" y2="395.61" stroke="#222" stroke-width="1"/>
<line x1="743.0" y1="382.82" x2="750.0" y2="382.82" stroke="#222" stroke-width="1"/>
<text transform="translate(780.9 387.12) scale(1.08 1)" class="ax" text-anchor="end">1 ft</text>
<line x1="743.0" y1="370.03" x2="747.0" y2="370.03" stroke="#222" stroke-width="1"/>
<line x1="743.0" y1="357.24" x2="750.0" y2="357.24" stroke="#222" stroke-width="1"/>
<text transform="translate(780.9 361.54) scale(1.08 1)" class="ax" text-anchor="end">2 ft</text>
<line x1="743.0" y1="344.45" x2="747.0" y2="344.45" stroke="#222" stroke-width="1"/>
<line x1="743.0" y1="331.66" x2="750.0" y2="331.66" stroke="#222" stroke-width="1"/>
<text transform="translate(780.9 335.96) scale(1.08 1)" class="ax" text-anchor="end">3 ft</text>
<line x1="743.0" y1="318.87" x2="747.0" y2="318.87" stroke="#222" stroke-width="1"/>
<line x1="743.0" y1="306.08" x2="750.0" y2="306.08" stroke="#222" stroke-width="1"/>
<text transform="translate(780.9 310.38) scale(1.08 1)" class="ax" text-anchor="end">4 ft</text>
<line x1="743.0" y1="293.29" x2="747.0" y2="293.29" stroke="#222" stroke-width="1"/>
<line x1="743.0" y1="280.50" x2="750.0" y2="280.50" stroke="#222" stroke-width="1"/>
<text transform="translate(780.9 284.80) scale(1.08 1)" class="ax" text-anchor="end">5 ft</text>
<line x1="743.0" y1="267.71" x2="747.0" y2="267.71" stroke="#222" stroke-width="1"/>
<line x1="743.0" y1="254.92" x2="750.0" y2="254.92" stroke="#222" stroke-width="1"/>
<text transform="translate(780.9 259.22) scale(1.08 1)" class="ax" text-anchor="end">6 ft</text>
<line x1="743.0" y1="242.13" x2="747.0" y2="242.13" stroke="#222" stroke-width="1"/>
<line x1="743.0" y1="229.34" x2="750.0" y2="229.34" stroke="#222" stroke-width="1"/>
<text transform="translate(780.9 233.64) scale(1.08 1)" class="ax" text-anchor="end">7 ft</text>
<line x1="743.0" y1="216.55" x2="747.0" y2="216.55" stroke="#222" stroke-width="1"/>
<line x1="743.0" y1="203.76" x2="750.0" y2="203.76" stroke="#222" stroke-width="1"/>
<text transform="translate(780.9 208.06) scale(1.08 1)" class="ax" text-anchor="end">8 ft</text>
<line x1="743.0" y1="190.97" x2="747.0" y2="190.97" stroke="#222" stroke-width="1"/>
<line x1="743.0" y1="178.18" x2="750.0" y2="178.18" stroke="#222" stroke-width="1"/>
<text transform="translate(780.9 182.48) scale(1.08 1)" class="ax" text-anchor="end">9 ft</text>
<line x1="743.0" y1="165.39" x2="747.0" y2="165.39" stroke="#222" stroke-width="1"/>
<line x1="743.0" y1="152.60" x2="750.0" y2="152.60" stroke="#222" stroke-width="1"/>
<text transform="translate(780.9 156.90) scale(1.08 1)" class="ax" text-anchor="end">10 ft</text>
<line x1="743.0" y1="139.81" x2="747.0" y2="139.81" stroke="#222" stroke-width="1"/>
<line x1="743.0" y1="127.02" x2="750.0" y2="127.02" stroke="#222" stroke-width="1"/>
<text transform="translate(780.9 131.32) scale(1.08 1)" class="ax" text-anchor="end">11 ft</text>
<line x1="743.0" y1="114.23" x2="747.0" y2="114.23" stroke="#222" stroke-width="1"/>
<line x1="743.0" y1="101.44" x2="750.0" y2="101.44" stroke="#222" stroke-width="1"/>
<text transform="translate(780.9 105.74) scale(1.08 1)" class="ax" text-anchor="end">12 ft</text>
<line x1="743.0" y1="88.65" x2="747.0" y2="88.65" stroke="#222" stroke-width="1"/>
<line x1="743.0" y1="75.86" x2="750.0" y2="75.86" stroke="#222" stroke-width="1"/>
<text transform="translate(780.9 80.16) scale(1.08 1)" class="ax" text-anchor="end">13 ft</text>
<line x1="743.0" y1="63.07" x2="747.0" y2="63.07" stroke="#222" stroke-width="1"/>
<text x="106.09" y="39.7" class="dl">Wed</text>
<text x="106.09" y="53.0" class="dl">09–Sep</text>
<text x="182.68" y="39.7" class="dl">Thu</text>
<text x="182.68" y="53.0" class="dl">10–Sep</text>
<text x="259.26" y="39.7" class="dl">Fri</text>
<text x="259.26" y="53.0" class="dl">11–Sep</text>
<text x="335.84" y="39.7" class="dl">Sat</text>
<text x="335.84" y="53.0" class="dl">12–Sep</text>
<text x="412.43" y="39.7" class="dl">Sun</text>
<text x="412.43" y="53.0" class="dl">13–Sep</text>
<text x="489.01" y="39.7" class="dl">Mon</text>
<text x="489.01" y="53.0" class="dl">14–Sep</text>
<text x="565.60" y="39.7" class="dl">Tue</text>
<text x="565.60" y="53.0" class="dl">15–Sep</text>
<text x="642.18" y="39.7" class="dl">Wed</text>
<text x="642.18" y="53.0" class="dl">16–Sep</text>
<text x="718.76" y="39.7" class="dl">Thu</text>
<text x="718.76" y="53.0" class="dl">17–Sep</text>
<text x="396.3" y="13.0" class="title">Newport Beach: rising&#160; ordinary tide at 0.4m (1.2ft)</text>
<text x="395.9" y="28.0" class="sub">Image captured 2 hours and 5 minutes after low water. Times are PDT (UTC –7.0hrs)</text>
<text transform="translate(45.6 478.9) scale(0.95 1)" class="rl" text-anchor="end">Sunrise</text>
<text transform="translate(747.0 478.9) scale(0.95 1)" class="rl">Sunrise</text>
<text transform="translate(45.6 492.6) scale(0.95 1)" class="rl" text-anchor="end">Sunset</text>
<text transform="translate(747.0 492.6) scale(0.95 1)" class="rl">Sunset</text>
<text transform="translate(45.6 506.1) scale(0.95 1)" class="rl" text-anchor="end">Moonrise</text>
<text transform="translate(747.0 506.1) scale(0.95 1)" class="rl">Moonrise</text>
<text transform="translate(45.6 519.8) scale(0.95 1)" class="rl" text-anchor="end">Moonset</text>
<text transform="translate(747.0 519.8) scale(0.95 1)" class="rl">Moonset</text>
<polygon points="165.18,468.00 167.29,472.09 171.84,472.84 168.60,476.11 169.29,480.66 165.18,478.60 161.06,480.66 161.75,476.11 158.52,472.84 163.06,472.09" fill="#a89c34" stroke="#7a5214" stroke-width="0.75"/><circle cx="165.18" cy="475.00" r="4.4" fill="#bcba3c" stroke="#9a7a28" stroke-width="0.6"/>
<text transform="translate(172.08 478.40) scale(1.0 1)" class="it">6:31am</text>
<polygon points="241.82,468.00 243.93,472.09 248.47,472.84 245.24,476.11 245.93,480.66 241.82,478.60 237.70,480.66 238.39,476.11 235.16,472.84 239.70,472.09" fill="#a89c34" stroke="#7a5214" stroke-width="0.75"/><circle cx="241.82" cy="475.00" r="4.4" fill="#bcba3c" stroke="#9a7a28" stroke-width="0.6"/>
<text transform="translate(248.72 478.40) scale(1.0 1)" class="it">6:32am</text>
<polygon points="318.45,468.00 320.57,472.09 325.11,472.84 321.88,476.11 322.57,480.66 318.45,478.60 314.34,480.66 315.03,476.11 311.80,472.84 316.34,472.09" fill="#a89c34" stroke="#7a5214" stroke-width="0.75"/><circle cx="318.45" cy="475.00" r="4.4" fill="#bcba3c" stroke="#9a7a28" stroke-width="0.6"/>
<text transform="translate(325.35 478.40) scale(1.0 1)" class="it">6:33am</text>
<polygon points="395.04,468.00 397.15,472.09 401.69,472.84 398.46,476.11 399.15,480.66 395.04,478.60 390.92,480.66 391.61,476.11 388.38,472.84 392.92,472.09" fill="#a89c34" stroke="#7a5214" stroke-width="0.75"/><circle cx="395.04" cy="475.00" r="4.4" fill="#bcba3c" stroke="#9a7a28" stroke-width="0.6"/>
<text transform="translate(401.94 478.40) scale(1.0 1)" class="it">6:33am</text>
<polygon points="471.67,468.00 473.79,472.09 478.33,472.84 475.10,476.11 475.79,480.66 471.67,478.60 467.56,480.66 468.25,476.11 465.02,472.84 469.56,472.09" fill="#a89c34" stroke="#7a5214" stroke-width="0.75"/><circle cx="471.67" cy="475.00" r="4.4" fill="#bcba3c" stroke="#9a7a28" stroke-width="0.6"/>
<text transform="translate(478.57 478.40) scale(1.0 1)" class="it">6:34am</text>
<polygon points="548.31,468.00 550.43,472.09 554.97,472.84 551.74,476.11 552.43,480.66 548.31,478.60 544.20,480.66 544.89,476.11 541.65,472.84 546.20,472.09" fill="#a89c34" stroke="#7a5214" stroke-width="0.75"/><circle cx="548.31" cy="475.00" r="4.4" fill="#bcba3c" stroke="#9a7a28" stroke-width="0.6"/>
<text transform="translate(555.21 478.40) scale(1.0 1)" class="it">6:35am</text>
<polygon points="624.90,468.00 627.01,472.09 631.55,472.84 628.32,476.11 629.01,480.66 624.90,478.60 620.78,480.66 621.47,476.11 618.24,472.84 622.78,472.09" fill="#a89c34" stroke="#7a5214" stroke-width="0.75"/><circle cx="624.90" cy="475.00" r="4.4" fill="#bcba3c" stroke="#9a7a28" stroke-width="0.6"/>
<text transform="translate(631.80 478.40) scale(1.0 1)" class="it">6:35am</text>
<polygon points="701.53,468.00 703.65,472.09 708.19,472.84 704.96,476.11 705.65,480.66 701.53,478.60 697.42,480.66 698.11,476.11 694.88,472.84 699.42,472.09" fill="#a89c34" stroke="#7a5214" stroke-width="0.75"/><circle cx="701.53" cy="475.00" r="4.4" fill="#bcba3c" stroke="#9a7a28" stroke-width="0.6"/>
<text transform="translate(708.43 478.40) scale(1.0 1)" class="it">6:36am</text>
<polygon points="128.75,481.40 130.86,485.49 135.41,486.24 132.17,489.51 132.86,494.06 128.75,492.00 124.63,494.06 125.32,489.51 122.09,486.24 126.63,485.49" fill="#a89c34" stroke="#7a5214" stroke-width="0.75"/><circle cx="128.75" cy="488.40" r="3.9" fill="#d83030" stroke="#8a6a28" stroke-width="0.6"/>
<text transform="translate(135.65 492.90) scale(1.0 1)" class="it">7:06pm</text>
<polygon points="205.28,481.40 207.39,485.49 211.94,486.24 208.70,489.51 209.39,494.06 205.28,492.00 201.16,494.06 201.86,489.51 198.62,486.24 203.16,485.49" fill="#a89c34" stroke="#7a5214" stroke-width="0.75"/><circle cx="205.28" cy="488.40" r="3.9" fill="#d83030" stroke="#8a6a28" stroke-width="0.6"/>
<text transform="translate(212.18 492.90) scale(1.0 1)" class="it">7:05pm</text>
<polygon points="281.76,481.40 283.87,485.49 288.41,486.24 285.18,489.51 285.87,494.06 281.76,492.00 277.64,494.06 278.33,489.51 275.10,486.24 279.64,485.49" fill="#a89c34" stroke="#7a5214" stroke-width="0.75"/><circle cx="281.76" cy="488.40" r="3.9" fill="#d83030" stroke="#8a6a28" stroke-width="0.6"/>
<text transform="translate(288.66 492.90) scale(1.0 1)" class="it">7:03pm</text>
<polygon points="358.29,481.40 360.40,485.49 364.94,486.24 361.71,489.51 362.40,494.06 358.29,492.00 354.17,494.06 354.86,489.51 351.63,486.24 356.17,485.49" fill="#a89c34" stroke="#7a5214" stroke-width="0.75"/><circle cx="358.29" cy="488.40" r="3.9" fill="#d83030" stroke="#8a6a28" stroke-width="0.6"/>
<text transform="translate(365.19 492.90) scale(1.0 1)" class="it">7:02pm</text>
<polygon points="434.82,481.40 436.93,485.49 441.48,486.24 438.24,489.51 438.93,494.06 434.82,492.00 430.70,494.06 431.39,489.51 428.16,486.24 432.70,485.49" fill="#a89c34" stroke="#7a5214" stroke-width="0.75"/><circle cx="434.82" cy="488.40" r="3.9" fill="#d83030" stroke="#8a6a28" stroke-width="0.6"/>
<text transform="translate(441.72 492.90) scale(1.0 1)" class="it">7:01pm</text>
<polygon points="511.30,481.40 513.41,485.49 517.95,486.24 514.72,489.51 515.41,494.06 511.30,492.00 507.18,494.06 507.87,489.51 504.64,486.24 509.18,485.49" fill="#a89c34" stroke="#7a5214" stroke-width="0.75"/><circle cx="511.30" cy="488.40" r="3.9" fill="#d83030" stroke="#8a6a28" stroke-width="0.6"/>
<text transform="translate(518.20 492.90) scale(1.0 1)" class="it">6:59pm</text>
<polygon points="587.83,481.40 589.94,485.49 594.48,486.24 591.25,489.51 591.94,494.06 587.83,492.00 583.71,494.06 584.40,489.51 581.17,486.24 585.71,485.49" fill="#a89c34" stroke="#7a5214" stroke-width="0.75"/><circle cx="587.83" cy="488.40" r="3.9" fill="#d83030" stroke="#8a6a28" stroke-width="0.6"/>
<text transform="translate(594.73 492.90) scale(1.0 1)" class="it">6:58pm</text>
<polygon points="664.36,481.40 666.47,485.49 671.01,486.24 667.78,489.51 668.47,494.06 664.36,492.00 660.24,494.06 660.93,489.51 657.70,486.24 662.24,485.49" fill="#a89c34" stroke="#7a5214" stroke-width="0.75"/><circle cx="664.36" cy="488.40" r="3.9" fill="#d83030" stroke="#8a6a28" stroke-width="0.6"/>
<text transform="translate(671.26 492.90) scale(1.0 1)" class="it">6:57pm</text>
<circle cx="157.84" cy="502.0" r="5.0" fill="#ffffc8" stroke="#a0a084" stroke-width="1.0"/>
<text transform="translate(164.84 505.60) scale(1.0 1)" class="it">4:13am</text>
<circle cx="237.30" cy="502.0" r="5.0" fill="#ffffc8" stroke="#a0a084" stroke-width="1.0"/>
<text transform="translate(244.30 505.60) scale(1.0 1)" class="it">5:07am</text>
<circle cx="316.75" cy="502.0" r="5.0" fill="#ffffc8" stroke="#a0a084" stroke-width="1.0"/>
<text transform="translate(323.75 505.60) scale(1.0 1)" class="it">6:01am</text>
<circle cx="396.15" cy="502.0" r="5.0" fill="#ffffc8" stroke="#a0a084" stroke-width="1.0"/>
<text transform="translate(403.15 505.60) scale(1.0 1)" class="it">6:54am</text>
<circle cx="475.50" cy="502.0" r="5.0" fill="#ffffc8" stroke="#a0a084" stroke-width="1.0"/>
<text transform="translate(482.50 505.60) scale(1.0 1)" class="it">7:46am</text>
<circle cx="554.91" cy="502.0" r="5.0" fill="#ffffc8" stroke="#a0a084" stroke-width="1.0"/>
<text transform="translate(561.91 505.60) scale(1.0 1)" class="it">8:39am</text>
<circle cx="634.31" cy="502.0" r="5.0" fill="#ffffc8" stroke="#a0a084" stroke-width="1.0"/>
<text transform="translate(641.31 505.60) scale(1.0 1)" class="it">9:32am</text>
<circle cx="122.15" cy="515.5" r="5.2" fill="#c8c8b8" stroke="#78786c" stroke-width="1.0"/>
<text transform="translate(129.15 519.60) scale(1.0 1)" class="it">5:02pm</text>
<circle cx="200.71" cy="515.5" r="5.2" fill="#c8c8b8" stroke="#78786c" stroke-width="1.0"/>
<text transform="translate(207.71 519.60) scale(1.0 1)" class="it">5:39pm</text>
<circle cx="279.15" cy="515.5" r="5.2" fill="#c8c8b8" stroke="#78786c" stroke-width="1.0"/>
<text transform="translate(286.15 519.60) scale(1.0 1)" class="it">6:14pm</text>
<circle cx="357.49" cy="515.5" r="5.2" fill="#c8c8b8" stroke="#78786c" stroke-width="1.0"/>
<text transform="translate(364.49 519.60) scale(1.0 1)" class="it">6:47pm</text>
<circle cx="435.78" cy="515.5" r="5.2" fill="#c8c8b8" stroke="#78786c" stroke-width="1.0"/>
<text transform="translate(442.78 519.60) scale(1.0 1)" class="it">7:19pm</text>
<circle cx="514.06" cy="515.5" r="5.2" fill="#c8c8b8" stroke="#78786c" stroke-width="1.0"/>
<text transform="translate(521.06 519.60) scale(1.0 1)" class="it">7:51pm</text>
<circle cx="592.40" cy="515.5" r="5.2" fill="#c8c8b8" stroke="#78786c" stroke-width="1.0"/>
<text transform="translate(599.40 519.60) scale(1.0 1)" class="it">8:24pm</text>
<circle cx="670.79" cy="515.5" r="5.2" fill="#c8c8b8" stroke="#78786c" stroke-width="1.0"/>
<text transform="translate(677.79 519.60) scale(1.0 1)" class="it">8:58pm</text>
<polygon points="398.9,369.6 394.3,377.7 403.4,377.7" fill="#dede40" stroke="#8c8c20" stroke-width="0.7"/>
<text x="324.7" y="532.9" class="nm">New Moon | 11:42pm</text>
</svg></body></html>
